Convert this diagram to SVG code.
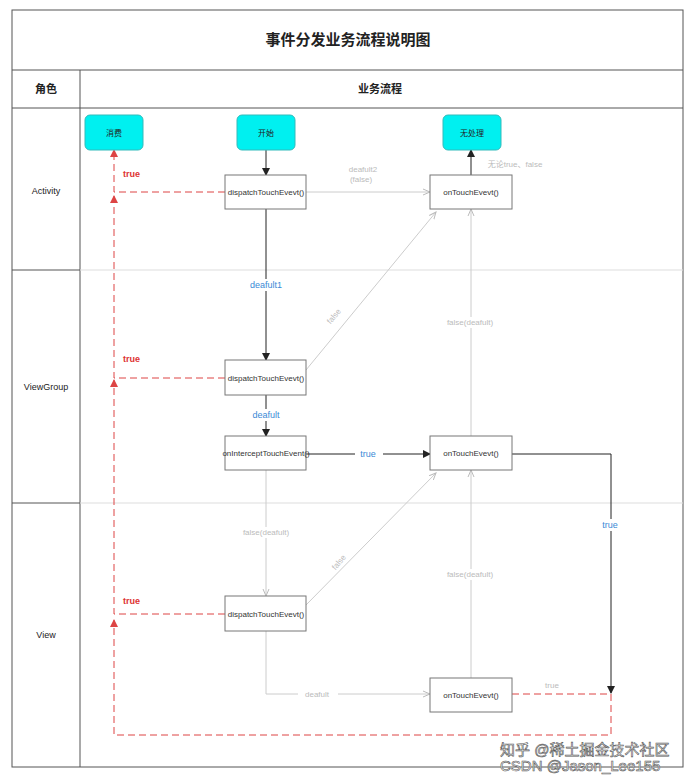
<svg xmlns="http://www.w3.org/2000/svg" width="695" height="782" viewBox="0 0 695 782">
<style>
text{font-family:"Liberation Sans","Noto Sans CJK SC",sans-serif}
.grid{stroke:#555;fill:none;stroke-width:1}
.sep{stroke:#ddd;fill:none}
.start{fill:#00f0f0;stroke:#3bb;rx:5}
.box{fill:#fff;stroke:#777}
.nt{font-size:8px;fill:#222;text-anchor:middle}
.ct{font-size:8px;fill:#333;text-anchor:middle}
.blk{stroke:#222;fill:none}
.gry{stroke:#ccc;fill:none}
.red{stroke:#d44;fill:none;stroke-dasharray:7 4}
.lb{font-size:9px;fill:#3a8ad6;text-anchor:middle}
.lg{font-size:8px;fill:#bbb;text-anchor:middle}
.lr{font-size:9px;fill:#d33;font-weight:bold}
</style>
<defs>
<marker id="ab" markerWidth="8" markerHeight="8" refX="7" refY="4" orient="auto" markerUnits="userSpaceOnUse"><path d="M0,0L8,4L0,8z" fill="#222"/></marker>
<marker id="ag" markerWidth="8" markerHeight="8" refX="7" refY="4" orient="auto" markerUnits="userSpaceOnUse"><path d="M0,1L7,4L0,7" fill="none" stroke="#bbb"/></marker>
<marker id="ar" markerWidth="8" markerHeight="8" refX="7" refY="4" orient="auto" markerUnits="userSpaceOnUse"><path d="M0,0L8,4L0,8z" fill="#d44"/></marker>
</defs>
<rect width="695" height="782" fill="#fff"/>
<g id="frame">
<rect class="grid" x="12" y="10" width="671" height="757"/>
<line class="grid" x1="12" y1="70" x2="683" y2="70"/>
<line class="grid" x1="12" y1="108" x2="683" y2="108"/>
<line class="grid" x1="80" y1="70" x2="80" y2="767"/>
<line class="grid" x1="12" y1="270" x2="80" y2="270"/>
<line class="grid" x1="12" y1="503" x2="80" y2="503"/>
<line class="sep" x1="80" y1="270" x2="683" y2="270"/>
<line class="sep" x1="80" y1="503" x2="683" y2="503"/>
<text x="348" y="45" font-size="15" font-weight="bold" text-anchor="middle" fill="#222">事件分发业务流程说明图</text>
<text x="46" y="93" font-size="11" font-weight="bold" text-anchor="middle" fill="#222">角色</text>
<text x="380" y="93" font-size="11" font-weight="bold" text-anchor="middle" fill="#222">业务流程</text>
<text x="46" y="194" font-size="9" text-anchor="middle" fill="#222">Activity</text>
<text x="46" y="390" font-size="9" text-anchor="middle" fill="#222">ViewGroup</text>
<text x="46" y="638" font-size="9" text-anchor="middle" fill="#222">View</text>
</g>
<g id="connectors">
<line class="blk" x1="266" y1="150" x2="266" y2="175" marker-end="url(#ab)"/>
<line class="blk" x1="266" y1="209" x2="266" y2="360" marker-end="url(#ab)"/>
<line class="blk" x1="266" y1="395" x2="266" y2="436" marker-end="url(#ab)"/>
<line class="blk" x1="306" y1="454" x2="430" y2="454" marker-end="url(#ab)"/>
<polyline class="blk" points="512,454 611,454 611,693" marker-end="url(#ab)"/>
<line class="blk" x1="471" y1="175" x2="471" y2="150" marker-end="url(#ab)"/>
<line class="gry" x1="306" y1="192" x2="430" y2="192" marker-end="url(#ag)"/>
<line class="gry" x1="306" y1="370" x2="436" y2="212" marker-end="url(#ag)"/>
<line class="gry" x1="471" y1="436" x2="471" y2="209" marker-end="url(#ag)"/>
<line class="gry" x1="266" y1="470" x2="266" y2="596" marker-end="url(#ag)"/>
<line class="gry" x1="306" y1="605" x2="436" y2="473" marker-end="url(#ag)"/>
<line class="gry" x1="471" y1="678" x2="471" y2="470" marker-end="url(#ag)"/>
<polyline class="gry" points="266,631 266,694 430,694" marker-end="url(#ag)"/>
<line class="red" x1="512" y1="694" x2="611" y2="694"/>
<polyline class="red" points="611,694 611,735 114,735 114,620" marker-end="url(#ar)"/>
<polyline class="red" points="225,614 114,614 114,380" marker-end="url(#ar)"/>
<polyline class="red" points="225,378 114,378 114,196" marker-end="url(#ar)"/>
<polyline class="red" points="225,192 114,192 114,150" marker-end="url(#ar)"/>
<rect x="250" y="279" width="34" height="12" fill="#fff"/>
<text class="lb" x="266" y="288">deafult1</text>
<rect x="252" y="409" width="28" height="12" fill="#fff"/>
<text class="lb" x="266" y="418">deafult</text>
<rect x="355" y="448" width="28" height="12" fill="#fff"/>
<text class="lb" x="368" y="457">true</text>
<rect x="600" y="519" width="22" height="12" fill="#fff"/>
<text class="lb" x="610" y="528">true</text>
<text class="lg" x="363" y="172">deafult2</text>
<text class="lg" x="361" y="182" font-size="7">(false)</text>
<text class="lg" x="515" y="167" text-anchor="start" x1="0">无论true、false</text>
<rect x="440" y="317" width="60" height="11" fill="#fff"/>
<text class="lg" x="470" y="325">false(deafult)</text>
<rect x="440" y="569" width="60" height="11" fill="#fff"/>
<text class="lg" x="470" y="577">false(deafult)</text>
<rect x="236" y="527" width="60" height="11" fill="#fff"/>
<text class="lg" x="266" y="535">false(deafult)</text>
<rect x="298" y="688" width="40" height="11" fill="#fff"/>
<text class="lg" x="317" y="697">deafult</text>
<text class="lg" x="552" y="688">true</text>
<text class="lg" x="336" y="318" transform="rotate(-50 336 318)">false</text>
<text class="lg" x="341" y="564" transform="rotate(-50 341 564)">false</text>
<text class="lr" x="123" y="177">true</text>
<text class="lr" x="123" y="362">true</text>
<text class="lr" x="123" y="604">true</text>
</g>
<g id="n_consume"><rect class="start" x="85" y="115" width="58" height="35" rx="5"/><text class="nt" x="114" y="136">消费</text></g>
<g id="n_start"><rect class="start" x="237" y="115" width="58" height="35" rx="5"/><text class="nt" x="266" y="136">开始</text></g>
<g id="n_none"><rect class="start" x="443" y="115" width="58" height="35" rx="5"/><text class="nt" x="472" y="136">无处理</text></g>
<g id="n_a_dispatch"><rect class="box" x="225" y="175" width="81" height="34"/><text class="ct" x="266" y="195">dispatchTouchEvevt()</text></g>
<g id="n_a_touch"><rect class="box" x="430" y="175" width="82" height="34"/><text class="ct" x="471" y="195">onTouchEvevt()</text></g>
<g id="n_vg_dispatch"><rect class="box" x="225" y="360" width="81" height="35"/><text class="ct" x="266" y="381">dispatchTouchEvevt()</text></g>
<g id="n_vg_intercept"><rect class="box" x="225" y="436" width="81" height="34"/><text class="ct" x="266" y="456" font-size="7.3">onInterceptTouchEvent()</text></g>
<g id="n_vg_touch"><rect class="box" x="430" y="436" width="82" height="34"/><text class="ct" x="471" y="456">onTouchEvevt()</text></g>
<g id="n_v_dispatch"><rect class="box" x="225" y="596" width="81" height="35"/><text class="ct" x="266" y="617">dispatchTouchEvevt()</text></g>
<g id="n_v_touch"><rect class="box" x="430" y="678" width="82" height="34"/><text class="ct" x="471" y="698">onTouchEvevt()</text></g>
<g id="watermark" font-size="15" fill="#fff" stroke="#555" stroke-width="0.6">
<text x="500" y="755">知乎 @稀土掘金技术社区</text>
<text x="500" y="771">CSDN @Jason_Lee155</text>
</g>
</svg>
